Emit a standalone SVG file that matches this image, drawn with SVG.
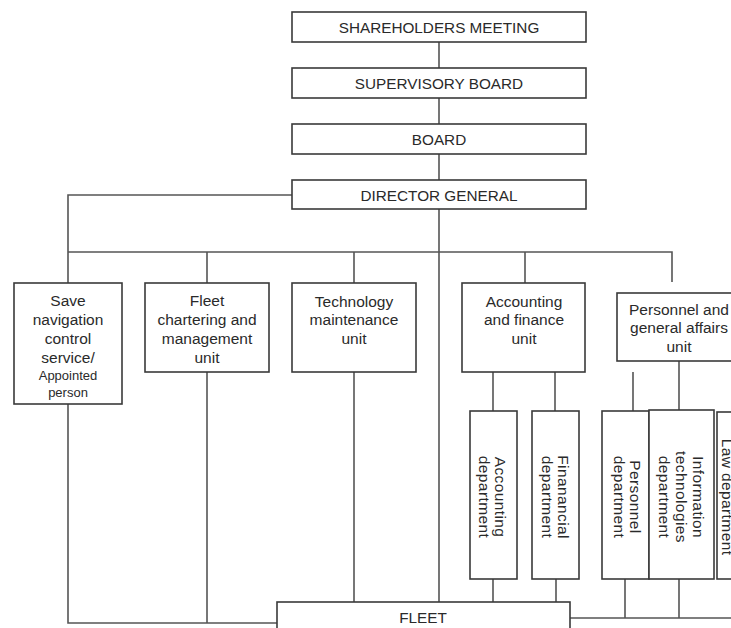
<svg xmlns="http://www.w3.org/2000/svg" width="731" height="628" viewBox="0 0 731 628">
<style>
.box{fill:#fff;stroke:#3a3a3a;stroke-width:1.6}
.ln{fill:none;stroke:#555;stroke-width:1.6}
text{font-family:"Liberation Sans",Arial,sans-serif;font-size:15.5px;fill:#2a2a2a;text-anchor:middle}
.cap{font-size:15.3px}
.sm{font-size:13px}
.rot{font-size:15.5px;letter-spacing:0.4px}
</style>
<rect width="731" height="628" fill="#fff"/>
<g id="connectors">
<path class="ln" d="M439 42V68M439 98V124M439 154V180M439 209V602"/>
<path class="ln" d="M292 195H68V283"/>
<path class="ln" d="M68 252H672V282M207 252V283M354 252V283M525 252V283"/>
<path class="ln" d="M68 404V623H277"/>
<path class="ln" d="M207 372V623"/>
<path class="ln" d="M354 372V602"/>
<path class="ln" d="M493 372V411M555 372V411"/>
<path class="ln" d="M493 579V602M556 579V602"/>
<path class="ln" d="M633 372V411M679 361V410"/>
<path class="ln" d="M625 579V618M679 579V618M570 618H731"/>
</g>
<g id="shareholders"><rect class="box" x="292" y="12" width="294" height="30"/><text class="cap" x="439" y="33">SHAREHOLDERS MEETING</text></g>
<g id="supervisory"><rect class="box" x="292" y="68" width="294" height="30"/><text class="cap" x="439" y="89">SUPERVISORY BOARD</text></g>
<g id="board"><rect class="box" x="292" y="124" width="294" height="30"/><text class="cap" x="439" y="145">BOARD</text></g>
<g id="director"><rect class="box" x="292" y="180" width="294" height="29"/><text class="cap" x="439" y="201">DIRECTOR GENERAL</text></g>
<g id="save"><rect class="box" x="14" y="283" width="108" height="121"/>
<text x="68" y="306">Save</text><text x="68" y="325">navigation</text><text x="68" y="344">control</text><text x="68" y="363">service/</text><text class="sm" x="68" y="380">Appointed</text><text class="sm" x="68" y="397">person</text></g>
<g id="fleetunit"><rect class="box" x="145" y="283" width="124" height="89"/>
<text x="207" y="306">Fleet</text><text x="207" y="325">chartering and</text><text x="207" y="344">management</text><text x="207" y="363">unit</text></g>
<g id="tech"><rect class="box" x="292" y="283" width="124" height="89"/>
<text x="354" y="307">Technology</text><text x="354" y="325">maintenance</text><text x="354" y="344">unit</text></g>
<g id="accunit"><rect class="box" x="462" y="283" width="123" height="89"/>
<text x="524" y="307">Accounting</text><text x="524" y="325">and finance</text><text x="524" y="344">unit</text></g>
<g id="persunit"><rect class="box" x="617" y="293" width="124" height="68"/>
<text x="679" y="315">Personnel and</text><text x="679" y="333">general affairs</text><text x="679" y="352">unit</text></g>
<g id="accdept"><rect class="box" x="470" y="411" width="47" height="168"/>
<text class="rot" transform="translate(495 497) rotate(90)"><tspan x="0" y="0">Accounting</tspan><tspan x="0" y="16">department</tspan></text></g>
<g id="findept"><rect class="box" x="532" y="411" width="47" height="168"/>
<text class="rot" transform="translate(558 497) rotate(90)"><tspan x="0" y="0">Finanancial</tspan><tspan x="0" y="16">department</tspan></text></g>
<g id="persdept"><rect class="box" x="602" y="411" width="47" height="168"/>
<text class="rot" transform="translate(630 497) rotate(90)"><tspan x="0" y="0">Personnel</tspan><tspan x="0" y="16">department</tspan></text></g>
<g id="itdept"><rect class="box" x="649" y="410" width="65" height="169"/>
<text class="rot" transform="translate(693 497) rotate(90)"><tspan x="0" y="0">Information</tspan><tspan x="0" y="17">technologies</tspan><tspan x="0" y="34">department</tspan></text></g>
<g id="lawdept"><rect class="box" x="717" y="412" width="40" height="167"/>
<text class="rot" transform="translate(722 497) rotate(90)">Law department</text></g>
<g id="fleet"><rect class="box" x="277" y="602" width="293" height="40"/><text class="cap" x="423" y="623">FLEET</text></g>
</svg>
